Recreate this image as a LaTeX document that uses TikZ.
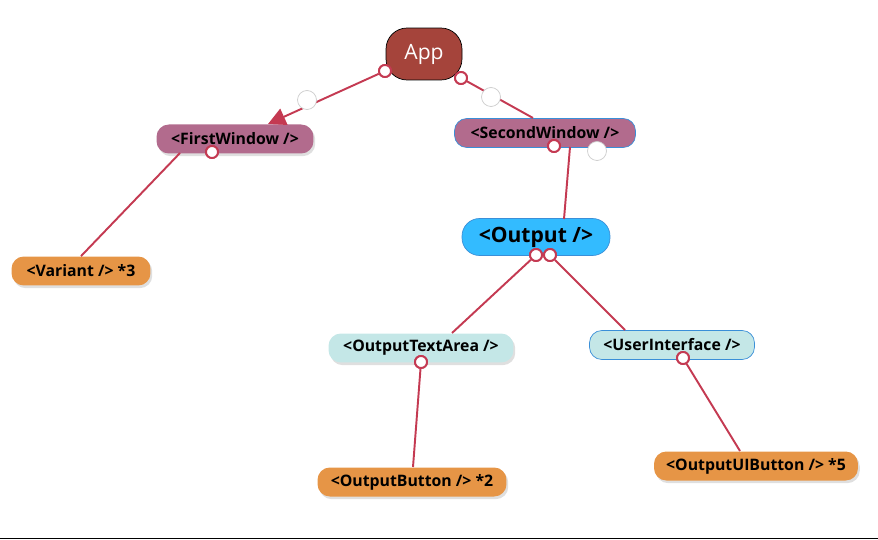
\documentclass[tikz,border=0pt]{standalone}
\usepackage{fontspec}
\setmainfont{Open Sans}
\usepackage{xcolor}
\usetikzlibrary{arrows.meta,positioning,shadows}

\definecolor{appred}{HTML}{A5443B}
\definecolor{winmauve}{HTML}{B26B8D}
\definecolor{leaforange}{HTML}{E69546}
\definecolor{outblue}{HTML}{33BBFF}
\definecolor{paleblue}{HTML}{C4E7E7}
\definecolor{edgeblue}{HTML}{3A8FD8}
\definecolor{linkred}{HTML}{C43A52}

\begin{document}
\begin{tikzpicture}[
    x=0.02cm, y=-0.02cm,
    compbox/.style={
        rectangle, rounded corners=7pt,
        minimum height=0.58cm,
        inner sep=2pt,
        font=\small\bfseries
    },
    shade/.style={drop shadow={opacity=0.25, shadow xshift=1pt, shadow yshift=-1.5pt}},
    winbox/.style={compbox, fill=winmauve},
    leafbox/.style={compbox, fill=leaforange, shade},
    panebox/.style={compbox, fill=paleblue},
    rootbox/.style={
        rectangle, draw=black, fill=appred,
        rounded corners=12pt,
        minimum width=1.52cm, minimum height=1.04cm,
        text=white, font=\large
    },
    link/.style={draw=linkred, line width=1.1pt},
    arr/.style={link, -{Triangle[length=3.5mm,width=3.5mm]}},
    port/.style={circle, draw=linkred, line width=1.1pt, fill=white,
        minimum size=0.24cm, inner sep=0pt},
    handle/.style={circle, draw=gray!40, fill=white,
        minimum size=0.38cm, inner sep=0pt},
]
\useasboundingbox (0,0) rectangle (878,540);

% nodes
\node[rootbox] (app) at (424,54) {App};
\node[winbox, shade, minimum width=3.14cm] (first) at (235,139) {<FirstWindow />};
\node[winbox, draw=edgeblue, minimum width=3.62cm] (second) at (545,133) {<SecondWindow />};
\node[leafbox, minimum width=2.78cm] (variant) at (81,271) {<Variant /> *3};
\node[compbox, fill=outblue, draw=edgeblue, minimum width=2.96cm,
      minimum height=0.74cm, rounded corners=10pt, font=\large\bfseries] (output) at (536,237) {<Output />};
\node[panebox, shade, minimum width=3.7cm] (textarea) at (421,348) {<OutputTextArea />};
\node[panebox, draw=edgeblue, minimum width=3.3cm] (ui) at (672,345) {<UserInterface />};
\node[leafbox, minimum width=3.78cm] (button) at (412,482) {<OutputButton /> *2};
\node[leafbox, minimum width=4.08cm] (uibutton) at (756,466) {<OutputUIButton /> *5};

% ports
\node[port] (p1) at (385,71) {};
\node[port] (p2) at (461,78) {};
\node[port] (p3) at (212,152) {};
\node[port] (p4) at (554,146) {};
\node[port] (p5) at (536,255) {};
\node[port] (p6) at (550,255) {};
\node[port] (p7) at (421,362) {};
\node[port] (p8) at (683,358) {};
\coordinate (c1) at (268,124);
\coordinate (c2) at (533,118);
\coordinate (c3) at (180,153);
\coordinate (c4) at (570,147);
\coordinate (c5) at (564,219);
\coordinate (c6) at (452,333);
\coordinate (c7) at (625,330);
\coordinate (c8) at (413,467);
\coordinate (c9) at (740,451);

% links
\draw[arr] (p1) -- (c1);
\draw[link] (p2) -- (c2);
\draw[link] (c3) -- (variant.north);
\draw[link] (c4) -- (c5);
\draw[link] (p5) -- (c6);
\draw[link] (p6) -- (c7);
\draw[link] (p7) -- (c8);
\draw[link] (p8) -- (c9);

% redraw ports on top
\foreach \p in {p1,p2,p3,p4,p5,p6,p7,p8}
    \node[port] at (\p) {};

% drag handles
\node[handle] (h1) at (307,100) {};
\node[handle] (h2) at (491,97) {};
\node[handle] (h3) at (597,151) {};

% bottom rule
\draw[black] (0,538) -- (878,538);
\end{tikzpicture}
\end{document}
